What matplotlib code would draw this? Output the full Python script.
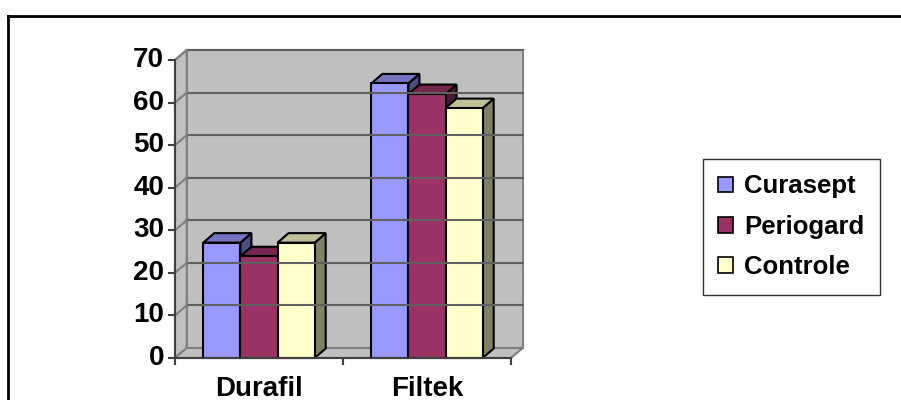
import matplotlib.pyplot as plt
from matplotlib.patches import Polygon

# Dados do gráfico
categorias = ["Durafil", "Filtek"]
series = ["Curasept", "Periogard", "Controle"]
curasept = [27.1, 64.5]
periogard = [23.9, 62.0]
controle = [27.1, 58.7]
valores = [curasept, periogard, controle]

# Cores (frente, topo, lateral)
cores = [
    ("#9999FF", "#7373BF", "#4D4D80"),
    ("#993366", "#732650", "#4D1A33"),
    ("#FFFFCC", "#BFBF99", "#808066"),
]

plt.rcParams['font.family'] = ['Liberation Sans', 'DejaVu Sans']

fig = plt.figure(figsize=(9.01, 4), dpi=100)
fig.patch.set_facecolor("white")

# Eixo no plano da frente: 175..511 px em x, 358..60 px em y
ax = fig.add_axes([175 / 901, (400 - 358) / 400, 336 / 901, 298 / 400])
ax.set_xlim(0, 2)
ax.set_ylim(0, 70)
ax.axis("off")

# Profundidade em unidades de dados
px_x = 2 / 336
px_y = 70 / 298
dx, dy = 11.7 * px_x, 10 * px_y
bdx, bdy = 11 * px_x, 9.5 * px_y
ymax = 70
parede = "#C0C0C0"
borda = "#808080"

# Parede do fundo, parede lateral e chão
ax.add_patch(Polygon([(dx, dy), (2 + dx, dy), (2 + dx, ymax + dy), (dx, ymax + dy)],
                     closed=True, fc=parede, ec=borda, lw=1.5, clip_on=False))
ax.add_patch(Polygon([(0, 0), (dx, dy), (dx, ymax + dy), (0, ymax)],
                     closed=True, fc=parede, ec=borda, lw=1.5, clip_on=False))
ax.add_patch(Polygon([(0, 0), (2, 0), (2 + dx, dy), (dx, dy)],
                     closed=True, fc=parede, ec=borda, lw=1.5, clip_on=False))

# Linhas de grade
for v in range(10, 71, 10):
    ax.plot([dx, 2 + dx], [v + dy, v + dy], color="#606060", lw=1.5, clip_on=False)
    ax.plot([0, dx], [v, v + dy], color=borda, lw=1.5, clip_on=False)

# Eixos da frente
ax.plot([0, 0], [0, ymax], color="#404040", lw=1.5, clip_on=False)
ax.plot([0, 2], [0, 0], color="#404040", lw=1.5, clip_on=False)
for v in range(0, 71, 10):
    ax.plot([-6 * px_x, 0], [v, v], color="#404040", lw=1.5, clip_on=False)
    ax.text(-11 * px_x, v, str(v), ha="right", va="center", fontsize=20,
            fontweight="bold")
for c in range(3):
    ax.plot([c, c], [0, -6 * px_y], color="#404040", lw=1.5, clip_on=False)

# Barras 3D
largura = 0.221
inicio = 0.5 - 1.5 * largura
for i, cat in enumerate(categorias):
    ax.text(i + 0.5, -18 * px_y, cat, ha="center", va="top", fontsize=20,
            fontweight="bold")
    for j in range(len(series)):
        x0 = i + inicio + j * largura
        x1 = x0 + largura
        h = valores[j][i]
        frente, topo, lado = cores[j]
        ax.add_patch(Polygon([(x1, 0), (x1 + bdx, bdy), (x1 + bdx, h + bdy), (x1, h)],
                             closed=True, fc=lado, ec="black", lw=1.5, clip_on=False))
        ax.add_patch(Polygon([(x0, h), (x1, h), (x1 + bdx, h + bdy), (x0 + bdx, h + bdy)],
                             closed=True, fc=topo, ec="black", lw=1.5, clip_on=False))
        ax.add_patch(Polygon([(x0, 0), (x1, 0), (x1, h), (x0, h)],
                             closed=True, fc=frente, ec="black", lw=1.5, clip_on=False))

# Legenda
handles = [plt.Rectangle((0, 0), 1, 1, fc=cores[j][0], ec="black", lw=1.2)
           for j in range(len(series))]
leg = fig.legend(handles, series, loc="upper left",
                 bbox_to_anchor=(703 / 901, 1 - 159 / 400),
                 prop={"size": 18.5, "weight": "bold"}, frameon=True, fancybox=False,
                 handlelength=0.55, handleheight=0.55, handletextpad=0.45,
                 labelspacing=0.64, borderpad=0.6, borderaxespad=0)
leg.get_frame().set_edgecolor("black")
leg.get_frame().set_linewidth(1.0)

# Borda do gráfico
fig.add_artist(plt.Line2D([8 / 901, 8 / 901], [0, 1 - 16 / 400], color="black", lw=2))
fig.add_artist(plt.Line2D([8 / 901, 1], [1 - 16 / 400, 1 - 16 / 400], color="black", lw=2))

fig.savefig("out.png", dpi=100)
